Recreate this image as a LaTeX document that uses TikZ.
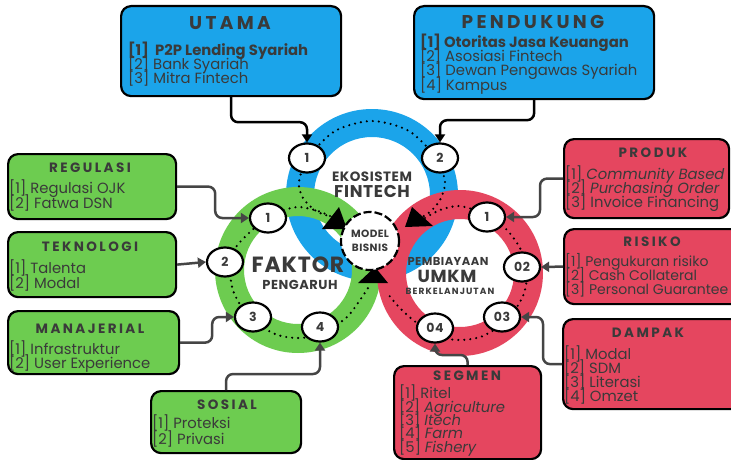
\documentclass[tikz,border=0pt]{standalone}
\usepackage{fontspec}
\setmainfont{Poppins}
\newfontfamily\titlefont[LetterSpace=18]{Poppins}
\newfontfamily\ringfont[LetterSpace=4]{Poppins}
\newfontfamily\ringwide[LetterSpace=12]{Poppins}
\usetikzlibrary{arrows.meta,shapes.geometric}
\definecolor{cblue}{HTML}{1BA4EA}
\definecolor{cgreen}{HTML}{6DCC50}
\definecolor{cred}{HTML}{E5465F}
\definecolor{ctext}{HTML}{3A3A3A}
\definecolor{cline}{HTML}{454545}
\begin{document}
\begin{tikzpicture}[x=1pt,y=-1pt,
  box/.style={draw=black,line width=2.2pt,rounded corners=10pt,anchor=north west,inner sep=0pt},
  ttl/.style={text=ctext,inner sep=0pt,anchor=center,font=\titlefont\bfseries\fontsize{13.5}{13.5}\selectfont},
  bigttl/.style={ttl,font=\titlefont\bfseries\fontsize{18.5}{18.5}\selectfont},
  item/.style={text=ctext,inner sep=0pt,anchor=base west,font=\fontsize{14.8}{14}\selectfont},
  smallitem/.style={item,font=\fontsize{14}{14}\selectfont},
  num/.style={ellipse,draw=black,fill=white,line width=2.2pt,minimum width=36pt,minimum height=29pt,inner sep=0pt,text=ctext,font=\ringfont\bfseries\fontsize{12.5}{12.5}\selectfont},
  conn/.style={draw=cline,line width=2.5pt,rounded corners=7pt,-{Triangle[length=8pt,width=10pt]}},
  dotpath/.style={draw=black,line width=2.4pt,line cap=round,dash pattern=on 0pt off 6pt},
  rtext/.style={text=ctext,inner sep=0pt,anchor=center}]
\clip (0,0) rectangle (731,460);
\fill[white] (0,0) rectangle (731,460);

% rings
\fill[cblue,even odd rule] (372,195) circle (86pt) (372,195) circle (58pt);
\fill[cgreen,even odd rule] (298,270) circle (83pt) (298,270) circle (54pt);
\fill[cred,even odd rule] (460,273) circle (83pt) (460,273) circle (54pt);

% dotted paths
\draw[dotpath] plot[smooth] coordinates {(332,217) (316,211) (303,198) (299,182) (308,158) (335,131) (372,121) (409,131) (436,158) (445,182) (440,200) (430,212) (420,218)};
\draw[dotpath] plot[smooth] coordinates {(330,216) (318,211) (300,207) (284,210) (268,218) (250,232) (234,250) (230,270) (234,293) (250,318) (275,334) (298,338) (321,334) (346,318) (360,300) (368,288)};
\draw[dotpath] plot[smooth] coordinates {(425,218) (440,210) (458,206) (475,210) (490,217) (507,230) (521,250) (527,273) (523,296) (507,320) (483,336) (460,340) (437,336) (413,320) (398,306) (388,294)};

% triangles
\fill[black] (322,229) -- (339,207) -- (347,229) -- cycle;
\fill[black] (405,227) -- (412,207) -- (433,226) -- cycle;
\fill[black] (358,283) -- (375,267) -- (388,283) -- cycle;

% model bisnis
\node[circle,draw=black,fill=white,line width=2.2pt,dash pattern=on 8pt off 3pt,minimum size=58pt,inner sep=0pt,align=center,text=ctext,font=\ringfont\bfseries\fontsize{10.5}{14}\selectfont] (mb) at (370,241) {MODEL\\BISNIS};

% ring texts
\node[rtext,font=\ringfont\bfseries\fontsize{13.5}{13.5}\selectfont] (eko) at (372,177) {EKOSISTEM};
\node[rtext,font=\ringfont\bfseries\fontsize{17}{17}\selectfont] (fin) at (372,192) {FINTECH};
\node[rtext,font=\ringfont\bfseries\fontsize{22}{22}\selectfont] (fak) at (298,265) {FAKTOR};
\node[rtext,font=\ringfont\bfseries\fontsize{13}{13}\selectfont] (pen) at (300,285) {PENGARUH};
\node[rtext,font=\ringfont\bfseries\fontsize{11.5}{11.5}\selectfont] (pem) at (448,261) {PEMBIAYAAN};
\node[rtext,font=\ringfont\bfseries\fontsize{17.5}{17.5}\selectfont] (umkm) at (447,276) {UMKM};
\node[rtext,font=\ringwide\bfseries\fontsize{9}{9}\selectfont] (ber) at (450,291) {BERKELANJUTAN};

% boxes
\node[box,fill=cblue,minimum width=220pt,minimum height=90pt] (utama) at (120,5) {};
\node[box,fill=cblue,minimum width=240pt,minimum height=93pt] (pend) at (413,5) {};
\node[box,fill=cgreen,minimum width=168pt,minimum height=65pt] (reg) at (7,153) {};
\node[box,fill=cgreen,minimum width=168pt,minimum height=65pt] (tek) at (7,231) {};
\node[box,fill=cgreen,minimum width=171pt,minimum height=63pt] (man) at (7,310) {};
\node[box,fill=cgreen,minimum width=150pt,minimum height=62pt] (sos) at (150,390) {};
\node[box,fill=cred,minimum width=165pt,minimum height=79pt] (prod) at (563,138) {};
\node[box,fill=cred,minimum width=182pt,minimum height=75pt] (ris) at (563,228) {};
\node[box,fill=cred,minimum width=183pt,minimum height=90pt] (damp) at (562,318) {};
\node[box,fill=cred,minimum width=147pt,minimum height=93pt] (seg) at (393,365) {};

% titles
\node[bigttl] (utamaT) at (230,23) {UTAMA};
\node[bigttl] (pendT) at (533,22) {PENDUKUNG};
\node[ttl] (regT) at (90,168) {REGULASI};
\node[ttl] (tekT) at (90,247) {TEKNOLOGI};
\node[ttl] (manT) at (90,329) {MANAJERIAL};
\node[ttl] (sosT) at (227,405) {SOSIAL};
\node[ttl] (prodT) at (653,153) {PRODUK};
\node[ttl] (risT) at (652,242) {RISIKO};
\node[ttl] (dampT) at (648,333) {DAMPAK};
\node[ttl] (segT) at (467,376) {SEGMEN};

% items
\foreach \t [count=\i] in {{\textbf{[1]\ \ P2P Lending Syariah}},{[2] Bank Syariah},{[3] Mitra Fintech}}
  \node[item] (utama-\i) at (128,42+14*\i) {\t};
\foreach \t [count=\i] in {{\textbf{[1] Otoritas Jasa Keuangan}},{[2] Asosiasi Fintech},{[3] Dewan Pengawas Syariah},{[4] Kampus}}
  \node[item] (pend-\i) at (420,34+14*\i) {\t};
\foreach \t [count=\i] in {{[1] Regulasi OJK},{[2] Fatwa DSN}}
  \node[item] (reg-\i) at (9,178+15*\i) {\t};
\foreach \t [count=\i] in {{[1] Talenta},{[2] Modal}}
  \node[item] (tek-\i) at (9,258+15*\i) {\t};
\foreach \t [count=\i] in {{[1] Infrastruktur},{[2] User Experience}}
  \node[item] (man-\i) at (9,340+14*\i) {\t};
\foreach \t [count=\i] in {{[1] Proteksi},{[2] Privasi}}
  \node[item] (sos-\i) at (152,412+16*\i) {\t};
\foreach \t [count=\i] in {{[1] \textit{Community Based}},{[2] \textit{Purchasing Order}},{[3] Invoice Financing}}
  \node[item] (prod-\i) at (565,165+14*\i) {\t};
\foreach \t [count=\i] in {{[1] Pengukuran risiko},{[2] Cash Collateral},{[3] Personal Guarantee}}
  \node[smallitem] (ris-\i) at (565,252+14*\i) {\t};
\foreach \t [count=\i] in {{[1] Modal},{[2] SDM},{[3] Literasi},{[4] Omzet}}
  \node[item] (damp-\i) at (564,345+14*\i) {\t};
\foreach \t [count=\i] in {{[1] Ritel},{[2] \textit{Agriculture}},{[3] \textit{Itech}},{[4] \textit{Farm}},{[5] \textit{Fishery}}}
  \node[item] (seg-\i) at (399,385.5+13.3*\i) {\t};

% numbered circles
\node[num] (b1) at (307,158) {1};
\node[num] (b2) at (440,158) {2};
\node[num] (g1) at (268,218) {1};
\node[num] (g2) at (225,262) {2};
\node[num] (g3) at (253,317) {3};
\node[num] (g4) at (320,327) {4};
\node[num] (r1) at (487,217) {1};
\node[num] (r2) at (522,267) {02};
\node[num] (r3) at (502,317) {03};
\node[num] (r4) at (435,328) {04};

% connectors
\draw[conn,draw=black] (utama.south) -- ++(0,25) -| (b1.north);
\draw[conn,draw=black] (pend.south) -- ++(0,20) -| (b2.north);
\draw[conn] (reg.east) -- ++(38,0) |- (g1.west);
\draw[conn] (tek.east) -- (g2.west);
\draw[conn] (man.east) -- ++(32,0) |- (g3.west);
\draw[conn] (sos.north) -- ++(0,-16) -| (g4.south);
\draw[conn] (prod.west) -- ++(-23,0) |- (r1.east);
\draw[conn] (ris.west) -- (r2.east);
\draw[conn] (damp.west) -- ++(-19,0) |- (r3.east);
\draw[conn] (seg.north) -- ++(0,-10) -| (r4.south);
\end{tikzpicture}
\end{document}
